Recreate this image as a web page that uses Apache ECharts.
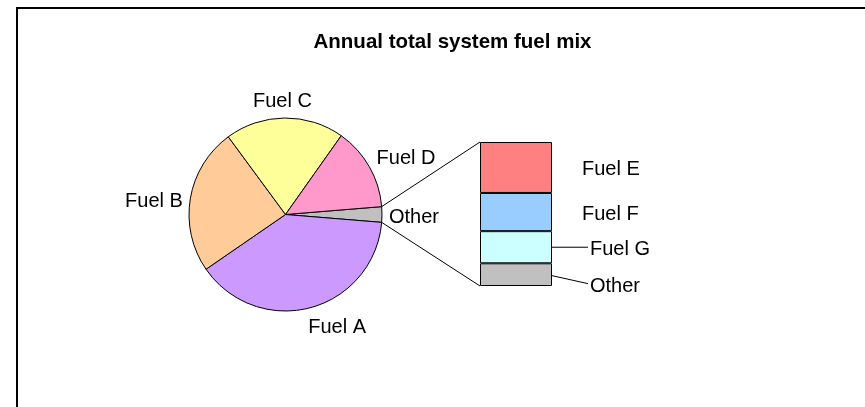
<!DOCTYPE html>
<html><head><meta charset="utf-8">
<script src="https://cdn.jsdelivr.net/npm/echarts@6/dist/echarts.min.js"></script>
<style>html,body{margin:0;padding:0;background:#fff}#c{width:865px;height:407px}</style>
</head><body><div id="c"></div>
<script>
const titleText = 'Annual total system fuel mix';
const pieCategories = ['Fuel A', 'Fuel B', 'Fuel C', 'Fuel D', 'Other'];
const pieValues = [39.1, 24.5, 19.9, 13.9, 2.6];
const pieColors = ['#CC99FF', '#FFCC99', '#FFFF99', '#FF99CC', '#C0C0C0'];
const barCategories = ['Fuel E', 'Fuel F', 'Fuel G', 'Other'];
const barValues = [0.92, 0.69, 0.58, 0.41];
const barColors = ['#FF8080', '#99CCFF', '#CCFFFF', '#C0C0C0'];

const FONT = '"Liberation Sans", Arial, sans-serif';
const CX = 285.5, CY = 214.5, R = 96.5;
const GRID = {left: 480, top: 142, width: 72, height: 144};
const LABEL_GAP = 7;
const TEXT_DY = 2.5;
// small layout nudges for pie labels (pixels), mimicking the original placement
const LABEL_NUDGE = {'Fuel A': [21, -4], 'Fuel B': [0, 7], 'Fuel C': [-2, -4], 'Fuel D': [5, 7]};

const otherIdx = pieCategories.length - 1;
const total = pieValues.reduce((a, b) => a + b, 0);
const otherAngle = pieValues[otherIdx] / total * 360;
const startAngle = otherAngle / 2;
const pieOrder = [otherIdx].concat(pieCategories.map((_, i) => i).filter(i => i !== otherIdx));
const pieData = pieOrder.map(i => ({name: pieCategories[i], value: pieValues[i], itemStyle: {color: pieColors[i]}}));
const midAngles = [];
let acc = startAngle;
pieData.forEach(d => { const span = d.value / total * 360; midAngles.push(acc - span / 2); acc -= span; });

const barSum = barValues.reduce((a, b) => a + b, 0);

const chart = echarts.init(document.getElementById('c'), null, {renderer: 'canvas'});

const barSeries = [];
for (let i = barCategories.length - 1; i >= 0; i--) {
  const leader = i >= 2;
  barSeries.push({
    type: 'bar', name: barCategories[i], stack: 'other',
    xAxisIndex: 0, yAxisIndex: 0,
    data: [barValues[i]],
    barWidth: '100%',
    itemStyle: {color: barColors[i], borderColor: '#000', borderWidth: 1},
    label: {
      show: true, position: 'right', distance: leader ? 38 : 30,
      offset: i === 3 ? [0, 9 + TEXT_DY] : [0, TEXT_DY],
      formatter: barCategories[i],
      fontFamily: FONT, fontSize: 20, color: '#000'
    },
    emphasis: {disabled: true}
  });
}

chart.setOption({
  animation: false,
  backgroundColor: '#fff',
  title: {
    text: titleText, left: 447.5, top: 27, textAlign: 'center',
    textStyle: {fontFamily: FONT, fontSize: 20.5, fontWeight: 'bold', color: '#000'}
  },
  grid: {left: GRID.left, top: GRID.top, width: GRID.width, height: GRID.height, containLabel: false},
  xAxis: {type: 'category', data: ['Other'], show: false},
  yAxis: {type: 'value', min: 0, max: barSum, show: false},
  series: [{
    type: 'pie',
    center: [CX, CY], radius: R,
    startAngle: startAngle, clockwise: true,
    avoidLabelOverlap: false,
    data: pieData,
    itemStyle: {borderColor: '#000', borderWidth: 1},
    label: {show: true, position: 'outside', formatter: '{b}', fontFamily: FONT, fontSize: 20, color: '#000'},
    labelLine: {show: false},
    labelLayout: function (p) {
      const a = midAngles[p.dataIndex] * Math.PI / 180;
      const c = Math.cos(a), s = Math.sin(a);
      const w = p.labelRect.width;
      const ext = Math.abs(c) * w / 2 + Math.abs(s) * 8;
      const d = R + LABEL_GAP + ext;
      const n = LABEL_NUDGE[pieData[p.dataIndex].name] || [0, 0];
      return {x: CX + d * c + n[0], y: CY - d * s + n[1] + TEXT_DY, align: 'center', verticalAlign: 'middle'};
    },
    emphasis: {disabled: true}
  }].concat(barSeries)
});

const yPix = v => chart.convertToPixel({yAxisIndex: 0}, v);
const barTop = yPix(barSum), barBottom = yPix(0);
const barRight = GRID.left + GRID.width;
const oa = startAngle * Math.PI / 180;
const pUp = [CX + R * Math.cos(oa), CY - R * Math.sin(oa)];
const pDn = [CX + R * Math.cos(oa), CY + R * Math.sin(oa)];
const yOtherMid = yPix(barValues[3] / 2);
const yGMid = yPix(barValues[3] + barValues[2] / 2);
const lineStyle = {stroke: '#000', lineWidth: 1};
chart.setOption({
  graphic: [
    {type: 'rect', shape: {x: 17, y: 8, width: 880, height: 420}, style: {fill: null, stroke: '#000', lineWidth: 2}, silent: true, z: 100},
    {type: 'line', shape: {x1: pUp[0], y1: pUp[1], x2: GRID.left, y2: barTop}, style: lineStyle, silent: true},
    {type: 'line', shape: {x1: pDn[0], y1: pDn[1], x2: GRID.left, y2: barBottom}, style: lineStyle, silent: true},
    {type: 'line', shape: {x1: barRight, y1: yGMid, x2: barRight + 36, y2: yGMid}, style: lineStyle, silent: true},
    {type: 'line', shape: {x1: barRight, y1: yOtherMid + 1, x2: barRight + 36, y2: yOtherMid + 9}, style: lineStyle, silent: true}
  ]
});
</script>
</body></html>
